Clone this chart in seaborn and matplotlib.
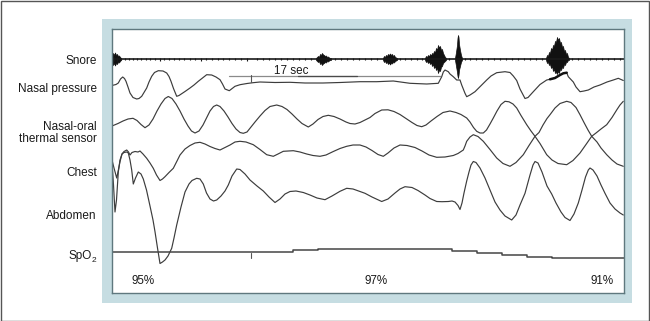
import matplotlib
matplotlib.use("Agg")
import matplotlib.pyplot as plt
from matplotlib.patches import Rectangle
import seaborn as sns

# ---------------- data (pixel-space readings from the reference) ----------------
channel_labels = ["Snore", "Nasal pressure", "Nasal-oral\nthermal sensor", "Chest", "Abdomen"]
spo2_labels = ["95%", "97%", "91%"]
spo2_label_x = [143, 376.5, 602]
scale_label = "17 sec"

snore_base = 59.2
snore_ticks = [(114, 4), (117, 3.5), (121, 2.5), (125, 2), (129, 2.5), (133, 2), (137, 2.5), (141, 2),
               (146, 2.5), (150, 2), (155, 2.5), (160, 3), (164, 2), (169, 2.5), (174, 2), (179, 2.5),
               (184, 2), (190, 2.5), (195, 2), (201, 3), (206, 2), (212, 2.5), (218, 2), (223, 2.5),
               (229, 2), (235, 2.5), (241, 2), (247, 3), (257, 2), (263, 2.5), (269, 2), (275, 2.5),
               (281, 2), (287, 2.5), (293, 2), (299, 2.5), (305, 2), (311, 2.5), (335, 2), (341, 2.5),
               (347, 2), (353, 2.5), (359, 2), (365, 2.5), (371, 2), (377, 2.5), (400, 2), (405, 2.5),
               (411, 2), (417, 2.5), (422, 2), (449, 2.5), (465, 2.5), (470, 2), (476, 2.5), (482, 2),
               (488, 2.5), (494, 2), (500, 2.5), (506, 2), (512, 2.5), (518, 2), (524, 2.5), (530, 2),
               (536, 2.5), (542, 2), (572, 2.5), (578, 2), (584, 2.5), (590, 2), (596, 2.5), (602, 2),
               (608, 2.5), (614, 2), (620, 2.5)]

burst_a_x = [112, 113, 114, 115, 116, 117, 118, 119, 120, 121]
burst_a_top = [56, 53, 55, 52.5, 55, 54, 56, 55.5, 57, 58]
burst_a_bot = [62, 65, 63, 65.5, 63, 64, 62, 62.5, 61, 60]
burst_b_x = [316, 317, 318, 319, 320, 321, 322, 323, 324, 325, 326, 327, 328, 329, 330, 331]
burst_b_top = [58, 57, 56, 57, 54, 55, 53, 54.5, 55, 56, 55.5, 57, 56.5, 57.5, 58, 58]
burst_b_bot = [60, 61, 62, 61, 64, 63, 65, 63.5, 63, 62, 62.5, 61, 61.5, 60.5, 60, 60]
burst_c_x = [383, 384, 385, 386, 387, 388, 389, 390, 391, 392, 393, 394, 395, 396, 397]
burst_c_top = [58, 56, 57, 55, 56, 54, 55, 53.5, 55, 54, 56, 55, 57, 57.5, 58]
burst_c_bot = [60, 62, 61, 63, 62, 64, 62.5, 64.5, 63, 63.5, 62, 62.5, 61, 60.5, 60]
burst_d_x = [425, 426, 427, 428, 429, 430, 431, 432, 433, 434, 435, 436, 437, 438, 439, 440, 441,
             442, 443, 444, 445, 446]
burst_d_top = [58, 56, 57, 55, 56.5, 54, 55.5, 53, 54, 51, 52.5, 48, 50, 45, 47.5, 46, 50, 49, 53,
               55, 57, 58]
burst_d_bot = [60, 62, 61, 63, 61.5, 64, 62.5, 66, 64, 68, 66, 70, 67.5, 73, 70, 71, 67, 66, 63,
               62, 61, 60]
burst_e_x = [455, 456, 457, 457.5, 458, 458.5, 459, 460, 461, 462]
burst_e_top = [58, 52, 45, 38, 35, 37, 44, 50, 55, 58]
burst_e_bot = [60, 66, 72, 76, 78, 75, 70, 66, 62, 60]
burst_f_x = [546, 547, 548, 549, 550, 551, 552, 553, 554, 555, 556, 557, 558, 559, 560, 561, 562,
             563, 564, 565, 566, 567, 568, 569]
burst_f_top = [58, 55, 56, 52, 53, 48, 50, 45, 46, 41, 42, 37, 40, 38, 43, 42, 47, 46, 51, 50, 54,
               53, 57, 58]
burst_f_bot = [60, 63, 62, 65, 64, 68, 66, 71, 69, 73, 72, 74, 71, 73, 69, 70, 67, 68, 64, 65, 62,
               62, 60, 60]

nasal_x = [112.7, 116, 118.3, 120.5, 122.7, 124.5, 126, 128, 130, 133, 136.7, 139, 141.7, 144, 146.7,
           149, 151.7, 154.5, 158.3, 163, 166.7, 169, 171, 173.5, 176.7, 179, 181.7, 185, 190, 194,
           198.3, 202.5, 206.7, 211.7, 216, 220, 222.5, 225, 229.3, 235, 240, 247, 253, 260, 275,
           290, 305, 323, 340, 360, 376.7, 393.3, 410, 426.7, 438.3, 440, 441.7, 443.3, 445, 448.3,
           450, 453.3, 456.7, 460, 461.7, 465, 466.7, 470, 475, 481.7, 486.7, 491, 496.7, 505, 510,
           513.3, 516.7, 520, 525, 528, 533.3, 540, 546.7, 550, 555, 560, 563.3, 566.7, 568.3, 573.3,
           576, 580, 584, 588.3, 594, 600, 607, 613.3, 618.3, 623.3]
nasal_y = [85.3, 84.5, 83, 79, 77, 78.5, 81.3, 87, 93, 97.5, 99, 98.5, 96.3, 92.5, 88,
           82, 76.3, 72.5, 70.7, 71, 73, 76.5, 81.3, 88.5, 96.3, 95.5, 93.7, 91.5, 88, 85,
           81.3, 78, 74.7, 75, 77, 79.7, 84, 89, 90.7, 86.3, 84.7, 83.5, 82.7, 82, 82.5,
           82.3, 83, 83, 82.5, 81.7, 81.7, 81, 83.3, 84, 83.3, 80, 76.7, 72, 70, 71.7,
           74, 76.7, 80, 80, 85, 93.3, 96.7, 95, 91.7, 85, 80, 76, 72.7, 71.7, 72.5,
           76, 80.5, 89, 98.5, 97.5, 91.7, 84.5, 80, 79.3, 78, 75, 73.3, 72.7, 76.7, 82,
           87, 91.7, 91, 90, 87, 85, 82, 80, 78.3, 80.5]

thermal_x = [112.7, 118, 123, 128, 133, 137, 141, 145, 149, 153, 157, 161, 165, 168.3, 172, 176, 180,
             184, 188, 191.5, 195, 199, 203, 206.5, 210, 213.5, 216.7, 220, 224, 228, 232, 236, 240,
             243.3, 247, 251, 255, 260, 265, 270, 276.7, 282, 287, 292, 297, 302, 308.3, 313, 318,
             323, 328.3, 334, 340, 346, 350, 355, 360, 365, 370, 375, 381.7, 388, 394, 400, 406, 412,
             417, 421.7, 426, 431, 437, 443, 450, 456, 461, 466.7, 470, 473.5, 476.7, 480, 483.3,
             486.5, 490, 493.3, 497, 501, 505, 509, 513, 516.7, 521, 526.7, 531, 535, 539, 543, 547,
             550, 555, 560, 566.7, 571, 576, 580, 584, 588, 591.7, 596, 601, 606.7, 612, 617, 620,
             623.3]
thermal_y = [125.7, 123.5, 121, 119, 118.3, 120.5, 124.5, 127.7, 125, 119, 111, 104, 98.5, 96.5, 98.5,
             104, 111, 119, 126, 131, 133, 131, 125, 118, 111, 106.5, 105, 106.5, 111, 117, 123.5,
             129, 132.5, 133.3, 132, 127, 122, 116, 110.5, 106.5, 105, 106.5, 109.5, 114, 119,
             123.5, 127, 124, 119.5, 116.5, 115.3, 116.5, 119, 122, 123.5, 124, 122.5, 120, 117.5,
             113.5, 110, 109.8, 111.5, 114.5, 118.5, 122.5, 125.5, 126.7, 125, 121, 116.5, 112.5,
             111, 112.5, 114.5, 118, 122, 127.5, 131.3, 133, 133, 130, 124, 118, 111, 104.5, 101.3,
             101.8, 104, 108, 115.5, 124.7, 131, 136.3, 132.5, 125, 118.5, 114.7, 108, 103.5, 101.3,
             102.5, 107.5, 114.7, 122.5, 130, 136.3, 133, 129, 124.7, 117.5, 109.5, 105, 101.3]

chest_x = [112, 114, 116.7, 118, 120, 122, 124, 126.7, 128.5, 130, 132, 135, 138, 140, 143, 146.7, 150,
           153.3, 156.5, 160, 162.5, 165, 169, 173.3, 177, 180, 185, 190, 195, 200, 205, 210, 215,
           220, 225, 230, 235, 240, 246, 253.3, 260, 266.7, 273.3, 278, 283.3, 293.3, 300, 306.7,
           313, 320, 326, 333.3, 340, 346.7, 353, 360, 366, 372, 378, 383.3, 388, 394, 400, 407,
           415, 422, 429, 436.7, 445, 453.3, 458, 463.3, 465, 466.7, 470, 473.3, 478, 483.3, 490,
           496.7, 503, 510, 516, 523.3, 529, 535, 540, 546.7, 552, 558, 566.7, 573, 580, 586,
           591.7, 597, 601, 606.7, 612, 617, 623.3]
chest_y = [160, 168, 178, 172, 161.7, 154, 151.5, 150, 152, 155, 152.5, 151.5, 152, 151, 154, 158.3,
           163, 168.3, 175, 180.5, 179, 176.7, 172.5, 168.3, 161, 155, 149, 145.5, 143, 142.3, 144,
           146.5, 148.5, 150, 147.5, 145, 142, 141.3, 142, 144.7, 149.5, 154.7, 156.3, 154, 151.3,
           150.7, 152, 154, 155.5, 156.3, 155, 151.5, 148.5, 146.3, 145, 145, 147, 150.5, 154.5,
           156.3, 153, 148, 145, 145.5, 147.5, 151, 155, 157.3, 157, 155.5, 153.5, 150, 146, 141.3,
           137, 134.7, 136.5, 141.3, 149.5, 158, 163.5, 166.3, 162.5, 154.7, 145.5, 136.3, 143.5,
           154.7, 160, 163.5, 164.7, 160.5, 153, 144.5, 136.3, 142, 148, 154.7, 160, 164, 166.3]

abdomen_x = [112, 113.5, 115, 116.5, 118.3, 120, 122, 124, 126.7, 128.3, 130, 131.7, 133.3, 135.5,
             138.3, 141, 143.3, 146.5, 150, 153, 155, 157.5, 160, 162.5, 165, 168, 171.7, 174, 176.7,
             181, 185, 189, 192, 196.7, 200, 203.3, 206.5, 210, 213.5, 216.7, 221, 225, 228.3, 232,
             236.7, 240, 245, 250, 257, 263.3, 269, 275, 280, 285, 290, 296, 303.3, 310, 317, 325,
             332, 340, 346.7, 353, 360, 365, 372, 381.7, 388, 395, 400, 405, 412, 418, 425, 430,
             436.7, 442, 448.3, 452, 455, 458, 460, 462, 464, 466.7, 469, 471, 473.3, 476, 480, 485,
             490, 495, 500, 505, 511.7, 516, 520, 525, 530, 533, 535, 538, 542, 547, 551.7, 556,
             561, 565, 570, 574, 578.3, 582, 585.5, 588.3, 590, 593, 597, 601, 605, 610, 615, 620,
             623.3]
abdomen_y = [162, 185, 212, 200, 172, 160, 154, 152.5, 152, 153, 160, 170, 184, 178, 172, 174, 179,
             190, 206, 220, 231.7, 248, 263.5, 262, 260, 256, 248.3, 238, 225, 207, 192, 184, 180.5,
             178.3, 179, 184, 193, 199, 201, 200, 196, 191, 185, 176, 169, 169.5, 174, 180, 186,
             191, 197, 202.5, 199, 194, 191.5, 191, 192.5, 195, 198, 199.7, 196, 191.3, 188.3,
             189, 191.5, 193.3, 197, 201.5, 199, 193, 189, 186.7, 187.5, 190.5, 195, 198.5, 201.5,
             201.7, 201.5, 201, 202, 205.5, 209.5, 203, 193, 181, 172, 165, 161.5, 162.5, 168, 178,
             190, 202, 210, 216, 220, 215, 205, 193.3, 175, 165, 161.5, 163, 172, 186, 194, 203,
             212, 217.5, 220.5, 214, 203, 190, 177, 170, 168, 170, 176, 185, 193.3, 203, 209, 213,
             215]

spo2_x = [112, 293, 318, 452, 477, 502, 527, 552, 612, 624]
spo2_y = [252, 250.3, 248.5, 250.5, 253, 255, 256.7, 257.6, 258.2, 258.2]

scale_bar_x = [229, 440]
scale_bar_y = [76.2, 76.2]
time_mark_x = 251

# ---------------- figure ----------------
sns.set_theme(style="white")
plt.rcParams["font.family"] = ["Liberation Sans", "DejaVu Sans"]

W, H = 650, 321
fig = plt.figure(figsize=(W / 100, H / 100), dpi=100)
fig.patch.set_facecolor("white")

# outer frame of the image
fig.patches.append(Rectangle((0.5 / W, 0.5 / H), (W - 1.5) / W, (H - 1.5) / H,
                             transform=fig.transFigure, fill=False, edgecolor="#555555",
                             linewidth=1.0, zorder=-2))
# light-blue mat
fig.patches.append(Rectangle((102 / W, (H - 303) / H), 530 / W, 284 / H,
                             transform=fig.transFigure, facecolor="#c6dde2", edgecolor="none",
                             zorder=-2))

ax = fig.add_axes([112 / W, (H - 293) / H, 512 / W, 264 / H])
ax.set_zorder(1)
ax.set_facecolor("white")
for s in ax.spines.values():
    s.set_color("#5f787e")
    s.set_linewidth(1.0)

trace_col = "#3c3c3c"
lw = 0.85

# snore channel
ax.plot([112, 624], [snore_base, snore_base], color="#1a1a1a", lw=1.2, solid_capstyle="butt")
ax.vlines([t[0] for t in snore_ticks], [snore_base - t[1] / 2 for t in snore_ticks],
          [snore_base + t[1] / 2 for t in snore_ticks], color="#1a1a1a", lw=0.8)
for bx, bt, bb in [(burst_a_x, burst_a_top, burst_a_bot), (burst_b_x, burst_b_top, burst_b_bot),
                   (burst_c_x, burst_c_top, burst_c_bot), (burst_d_x, burst_d_top, burst_d_bot),
                   (burst_e_x, burst_e_top, burst_e_bot), (burst_f_x, burst_f_top, burst_f_bot)]:
    ax.fill_between(bx, bt, bb, color="#111111", lw=0.5, edgecolor="#111111")

# respiratory channels
for xs, ys in [(nasal_x, nasal_y), (thermal_x, thermal_y), (chest_x, chest_y), (abdomen_x, abdomen_y)]:
    sns.lineplot(x=xs, y=ys, ax=ax, color=trace_col, linewidth=lw, estimator=None, sort=False)
# heavier stretch of the nasal trace under the last snore burst
i0, i1 = nasal_x.index(550), nasal_x.index(566.7)
ax.plot(nasal_x[i0:i1 + 1], nasal_y[i0:i1 + 1], color="#111111", lw=1.8)

# SpO2 step trace
sns.lineplot(x=spo2_x, y=spo2_y, ax=ax, color="#454545", linewidth=1.1, estimator=None,
             sort=False, drawstyle="steps-post")

# 17 s scale bar and time marks
ax.plot(scale_bar_x, scale_bar_y, color="#8a8a8a", lw=0.9)
ax.plot([298, 357], [76.2, 76.2], color="#4a4a4a", lw=0.9)
ax.plot([time_mark_x, time_mark_x], [74.5, 82], color="#555555", lw=0.8)
ax.plot([time_mark_x, time_mark_x], [253, 258], color="#555555", lw=0.8)
ax.text(291.5, 74, scale_label, ha="center", va="baseline", fontsize=8.4, color="#1a1a1a")

# SpO2 values
for lab, x in zip(spo2_labels, spo2_label_x):
    ax.text(x, 284, lab, ha="center", va="baseline", fontsize=8.4, color="#1a1a1a")

# channel labels (left of the plot)
lab_x = 96.7
fs = 8.5
ax.text(lab_x, 64.5, channel_labels[0], ha="right", va="baseline", fontsize=fs, color="#1a1a1a")
ax.text(lab_x, 92, channel_labels[1], ha="right", va="baseline", fontsize=fs, color="#1a1a1a")
ax.text(lab_x, 129.5, "Nasal-oral", ha="right", va="baseline", fontsize=fs, color="#1a1a1a")
ax.text(lab_x, 142.5, "thermal sensor", ha="right", va="baseline", fontsize=fs, color="#1a1a1a")
ax.text(lab_x, 176, channel_labels[3], ha="right", va="baseline", fontsize=fs, color="#1a1a1a")
ax.text(lab_x, 219, channel_labels[4], ha="right", va="baseline", fontsize=fs, color="#1a1a1a")
ax.text(91.6, 259.5, "SpO", ha="right", va="baseline", fontsize=fs, color="#1a1a1a")
ax.text(91.8, 262.5, "2", ha="left", va="baseline", fontsize=6.0, color="#1a1a1a")

ax.set_xlim(112, 624)
ax.set_ylim(293, 29)
ax.set_xticks([])
ax.set_yticks([])
ax.set_xlabel("")
ax.set_ylabel("")
if ax.get_legend() is not None:
    ax.get_legend().remove()

fig.savefig("out.png", dpi=100)
